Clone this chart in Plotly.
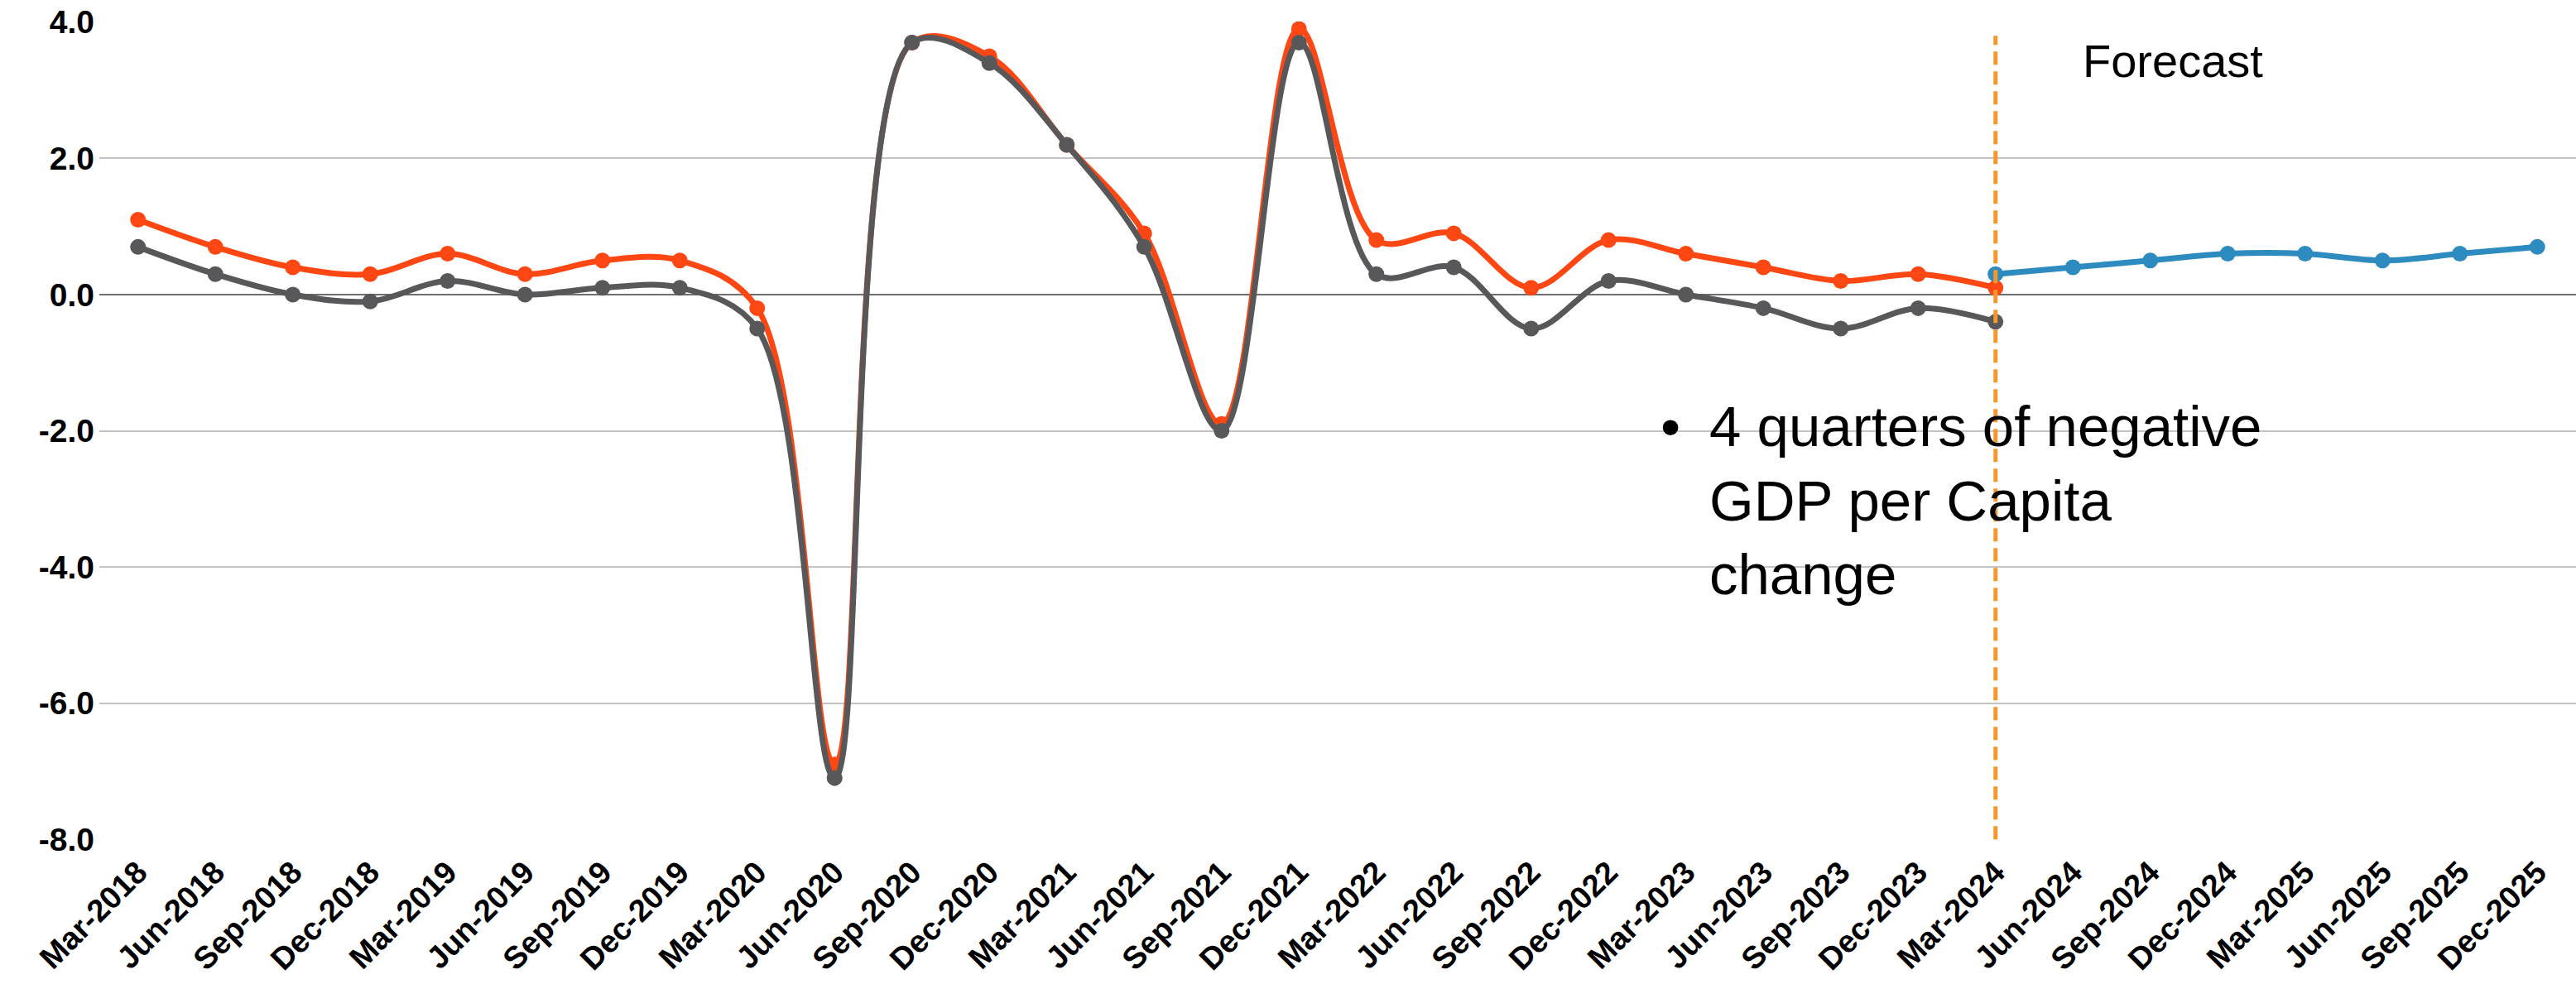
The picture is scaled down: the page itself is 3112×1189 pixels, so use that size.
import plotly.graph_objects as go

quarters = ["Mar-2018", "Jun-2018", "Sep-2018", "Dec-2018",
            "Mar-2019", "Jun-2019", "Sep-2019", "Dec-2019",
            "Mar-2020", "Jun-2020", "Sep-2020", "Dec-2020",
            "Mar-2021", "Jun-2021", "Sep-2021", "Dec-2021",
            "Mar-2022", "Jun-2022", "Sep-2022", "Dec-2022",
            "Mar-2023", "Jun-2023", "Sep-2023", "Dec-2023",
            "Mar-2024", "Jun-2024", "Sep-2024", "Dec-2024",
            "Mar-2025", "Jun-2025", "Sep-2025", "Dec-2025"]

hist_quarters = quarters[:25]
forecast_quarters = quarters[24:]

gdp_growth = [1.1, 0.7, 0.4, 0.3, 0.6, 0.3, 0.5, 0.5,
              -0.2, -6.9, 3.7, 3.5, 2.2, 0.9, -1.9, 3.9,
              0.8, 0.9, 0.1, 0.8, 0.6, 0.4, 0.2, 0.3, 0.1]
gdp_per_capita = [0.7, 0.3, 0.0, -0.1, 0.2, 0.0, 0.1, 0.1,
                  -0.5, -7.1, 3.7, 3.4, 2.2, 0.7, -2.0, 3.7,
                  0.3, 0.4, -0.5, 0.2, 0.0, -0.2, -0.5, -0.2, -0.4]
gdp_forecast = [0.3, 0.4, 0.5, 0.6, 0.6, 0.5, 0.6, 0.7]

y_ticks = [4, 2, 0, -2, -4, -6, -8]
y_tick_labels = ["4.0", "2.0", "0.0", "-2.0", "-4.0", "-6.0", "-8.0"]

forecast_start = "Mar-2024"

ORANGE = "#FF4713"
GREY = "#58585B"
BLUE = "#2E8BC0"
DASH = "#F7962D"

fig = go.Figure()

fig.add_trace(go.Scatter(
    x=hist_quarters, y=gdp_growth, mode="lines+markers", name="GDP",
    line=dict(color=ORANGE, width=7, shape="spline", smoothing=1.0),
    marker=dict(color=ORANGE, size=19),
))
fig.add_trace(go.Scatter(
    x=hist_quarters, y=gdp_per_capita, mode="lines+markers", name="GDP per Capita",
    line=dict(color=GREY, width=7, shape="spline", smoothing=1.0),
    marker=dict(color=GREY, size=19),
))
fig.add_trace(go.Scatter(
    x=forecast_quarters, y=gdp_forecast, mode="lines+markers", name="Forecast",
    line=dict(color=BLUE, width=7, shape="spline", smoothing=1.0),
    marker=dict(color=BLUE, size=19),
))

fs_idx = quarters.index(forecast_start)
fig.add_shape(type="line", xref="x", yref="y",
              x0=fs_idx, x1=fs_idx, y0=-8, y1=3.8,
              line=dict(color=DASH, width=5, dash="16px,8px"))

label_font = "Liberation Sans, Arial, sans-serif"
text_font = "Liberation Sans, Arial, sans-serif"

fig.add_annotation(xref="paper", yref="paper", x=0.8002, y=0.918,
                   xanchor="left", yanchor="bottom", showarrow=False,
                   text="Forecast", font=dict(family=text_font, size=56, color="#000000"))

fig.add_annotation(xref="paper", yref="paper", x=0.6343, y=0.546,
                   xanchor="center", yanchor="top", showarrow=False,
                   text="•", font=dict(family=text_font, size=69, color="#000000"))
fig.add_annotation(xref="paper", yref="paper", x=0.6494, y=0.546,
                   xanchor="left", yanchor="top", showarrow=False, align="left",
                   text="4 quarters of negative<br>GDP per Capita<br>change",
                   font=dict(family=text_font, size=69, color="#000000"))

fig.update_layout(
    width=3112, height=1189,
    margin=dict(l=120, r=0, t=26, b=174),
    paper_bgcolor="white", plot_bgcolor="white",
    showlegend=False,
)
fig.update_xaxes(
    type="category", categoryorder="array", categoryarray=quarters,
    range=[-0.5, len(quarters) - 0.5], automargin=False,
    tickangle=-45, showgrid=False, zeroline=False, showline=False,
    ticks="", ticklabelstandoff=8,
    tickfont=dict(family=label_font, size=38, color="#000000", weight="bold"),
)
fig.update_yaxes(
    range=[-8.01, 4.01], tickvals=y_ticks, ticktext=y_tick_labels, automargin=False,
    showgrid=True, gridcolor="#C4C4C4", gridwidth=2,
    zeroline=True, zerolinecolor="#6E6E6E", zerolinewidth=2,
    showline=False, ticks="", ticklabelstandoff=5, ticklabeloverflow="allow",
    tickfont=dict(family=label_font, size=39, color="#000000", weight="bold"),
)

fig.write_html("out.html", config={"displayModeBar": False},
               post_script="document.body.style.margin='0px';document.body.style.overflow='hidden';")
